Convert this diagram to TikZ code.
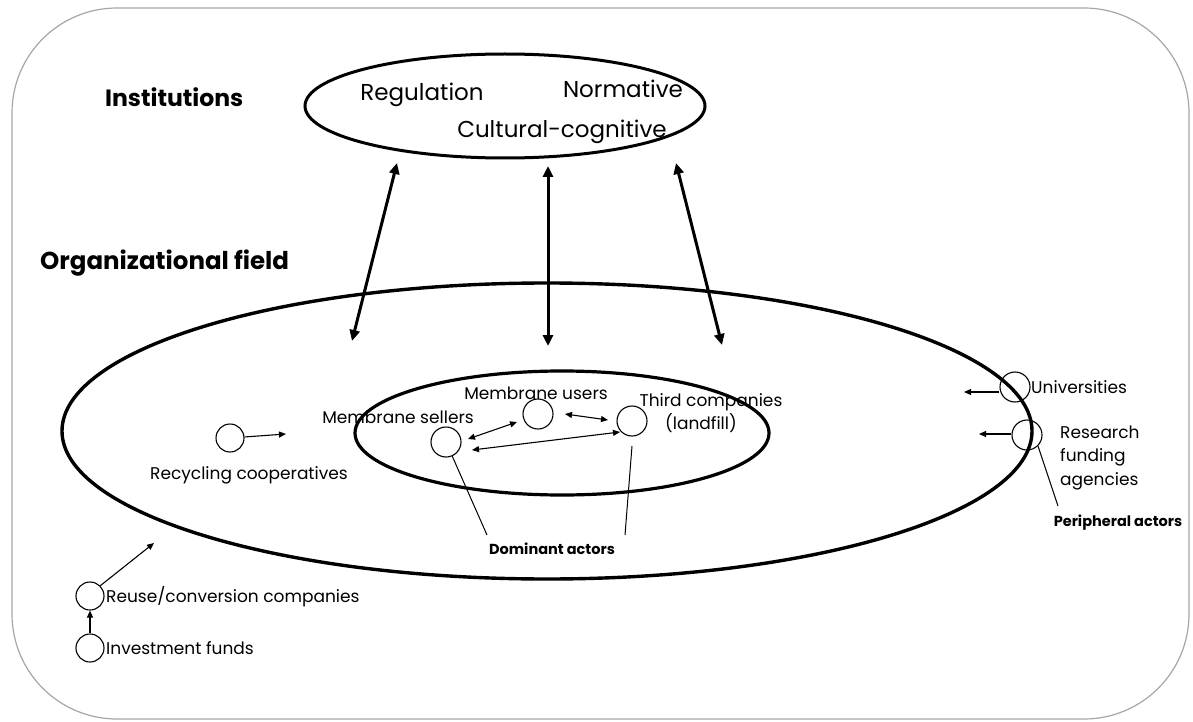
\documentclass[tikz,border=0pt]{standalone}
\usepackage{fontspec}
\setmainfont{Poppins}
\usetikzlibrary{arrows.meta}
\begin{document}
\begin{tikzpicture}[x=1pt,y=-1pt,
  frame/.style={draw=black!35,line width=1.2pt,rounded corners=105pt},
  actor/.style={draw,circle,line width=1.1pt,minimum size=30pt,inner sep=0pt},
  lbl/.style={font=\fontsize{17}{23.5}\selectfont,inner sep=0pt},
  inst/.style={font=\fontsize{23}{27}\selectfont,inner sep=0pt},
  head/.style={font=\fontsize{23.5}{27}\selectfont\bfseries,inner sep=0pt},
  sub/.style={font=\fontsize{14.5}{17}\selectfont\bfseries,inner sep=0pt},
  link/.style={line width=3pt,{Triangle[length=11pt,width=10pt]}-{Triangle[length=11pt,width=10pt]}},
  tie/.style={line width=1.1pt,{Triangle[length=7pt,width=6pt]}-{Triangle[length=7pt,width=6pt]}},
  push/.style={line width=1.1pt,-{Triangle[length=7pt,width=6pt]}},
  lead/.style={line width=1pt}]
\useasboundingbox (0,0) rectangle (1193,722);
\draw[frame] (12,8) rectangle (1189,719);

% institutional pillars
\draw[line width=3pt] (505,106) ellipse [x radius=200, y radius=52];
\node[inst] (reg) at (422,95) {Regulation};
\node[inst] (nor) at (623,89) {Normative};
\node[inst] (cul) at (562,132) {Cultural-cognitive};
\node[head,anchor=west] (insttitle) at (105,97) {Institutions};

% organizational field
\node[head,font=\fontsize{24.5}{28}\selectfont\bfseries,anchor=west] (fieldtitle) at (40,263) {Organizational field};
\draw[line width=3.4pt] (547,431) ellipse [x radius=485, y radius=148];
\draw[line width=3.2pt] (562,433) ellipse [x radius=207, y radius=62];

% links between institutions and field
\coordinate (i1) at (397,163); \coordinate (f1) at (352,341);
\coordinate (i2) at (548,166); \coordinate (f2) at (548,346);
\coordinate (i3) at (676,163); \coordinate (f3) at (722,345);
\draw[link] (i1) -- (f1);
\draw[link] (i2) -- (f2);
\draw[link] (i3) -- (f3);

% dominant actors
\node[actor] (sel) at (446,442) {};
\node[actor] (use) at (538,414) {};
\node[actor] (thr) at (632,421) {};
\node[lbl] (sellbl) at (398,417) {Membrane sellers};
\node[lbl] (uselbl) at (536,393) {Membrane users};
\node[lbl] (thrlbl) at (711,402) {Third companies};
\node[lbl] (thrlbl2) at (701,423) {(landfill)};
\coordinate (s1) at (468,439); \coordinate (u1) at (517,422);
\coordinate (u2) at (565,414); \coordinate (t1) at (608,420);
\coordinate (s2) at (472,450); \coordinate (t2) at (620,432);
\draw[tie] (s1) -- (u1);
\draw[tie] (u2) -- (t1);
\draw[tie] (s2) -- (t2);
\node[sub] (dom) at (552,549) {Dominant actors};
\coordinate (d1) at (487,535); \coordinate (d2) at (625,535);
\coordinate (thrfoot) at (632,446);
\draw[lead] (sel) -- (d1);
\draw[lead] (thrfoot) -- (d2);

% recycling cooperatives
\node[actor,minimum size=28pt] (rec) at (230,438) {};
\node[lbl] (reclbl) at (249,475) {Recycling cooperatives};
\coordinate (recto) at (286,434);
\draw[push] (rec) -- (recto);

% peripheral actors
\node[actor] (uni) at (1015,387) {};
\node[lbl,anchor=west] (unilbl) at (1031,387) {Universities};
\coordinate (unito) at (964,392);
\draw[push] (uni.west |- unito) -- (unito);
\node[actor] (rfa) at (1027,435) {};
\node[lbl,align=left,anchor=west] (rfalbl) at (1060,458) {Research\\funding\\agencies};
\coordinate (rfato) at (979,434);
\draw[push] (rfa.west |- rfato) -- (rfato);
\node[sub] (per) at (1118,523) {Peripheral actors};
\coordinate (p1) at (1058,506);
\draw[lead] (rfa.south east) -- (p1);

% entrants outside the field
\node[actor,minimum size=28pt] (reu) at (90,596) {};
\node[lbl,anchor=west] (reulbl) at (106,597) {Reuse/conversion companies};
\coordinate (reuto) at (154,543);
\draw[push] (reu.north east) -- (reuto);
\node[actor,minimum size=28pt] (inv) at (90,648) {};
\node[lbl,anchor=west] (invlbl) at (106,648) {Investment funds};
\draw[push] (inv) -- (reu);
\end{tikzpicture}
\end{document}
